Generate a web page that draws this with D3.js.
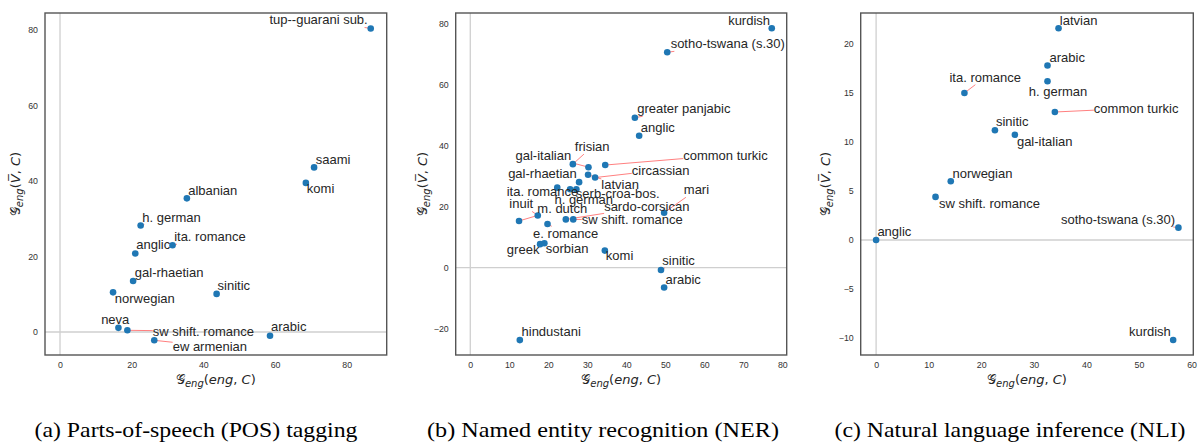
<!DOCTYPE html>
<html><head><meta charset="utf-8">
<script src="https://cdn.jsdelivr.net/npm/d3@7"></script>
<style>body{margin:0;background:#fff}svg{display:block}</style>
</head><body>
<svg id="chart" width="1198" height="443"></svg>
<script>
// ---------- DATA ----------
const posLangs = ["tup--guarani sub.","saami","komi","albanian","h. german","ita. romance","anglic","gal-rhaetian","norwegian","sinitic","neva","sw shift. romance","ew armenian","arabic"];
const posX = [86.7,70.9,68.6,35.4,22.5,31.4,21.0,20.4,14.8,43.7,16.3,18.8,26.3,58.6];
const posY = [80.4,43.6,39.5,35.4,28.2,23.0,20.8,13.5,10.5,10.1,1.1,0.45,-2.2,-1.0];

const nerLangs = ["kurdish","sotho-tswana (s.30)","greater panjabic","anglic","frisian","gal-italian","common turkic","circassian","latvian","gal-rhaetian","ita. romance","h. german","serb-croa-bos.","m. dutch","inuit","sardo-corsican","sw shift. romance","mari","e. romance","greek","sorbian","komi","sinitic","arabic","hindustani"];
const nerX = [77.3,50.5,42.2,43.3,26.3,30.3,34.6,32.0,30.2,27.9,22.3,25.6,27.2,12.5,17.3,24.5,26.4,49.7,19.8,17.9,19.0,34.5,48.9,49.7,12.7];
const nerY = [78.4,70.5,49.1,43.2,33.9,32.9,33.6,29.5,30.4,28.0,26.2,25.7,25.7,15.3,17.1,15.8,15.8,18.0,14.3,7.7,8.0,5.6,-0.75,-6.5,-23.7];

const nliLangs = ["latvian","arabic","h. german","ita. romance","common turkic","sinitic","gal-italian","norwegian","sw shift. romance","sotho-tswana (s.30)","anglic","kurdish"];
const nliX = [34.7,32.6,32.6,16.8,34.0,22.6,26.4,14.2,11.3,57.5,0.0,56.5];
const nliY = [21.6,17.8,16.2,15.0,13.06,11.2,10.74,6.0,4.4,1.26,0.0,-10.2];

const posXTicks = [0,20,40,60,80];
const posYTicks = [0,20,40,60,80];
const nerXTicks = [0,10,20,30,40,50,60,70,80];
const nerYTicks = [-20,0,20,40,60,80];
const nliXTicks = [0,10,20,30,40,50,60];
const nliYTicks = [-10,-5,0,5,10,15,20];

const captions = ["(a) Parts-of-speech (POS) tagging","(b) Named entity recognition (NER)","(c) Natural language inference (NLI)"];

// ---------- LAYOUT (label offsets in px from the point: dx, dy(baseline), anchor) ----------
const posLabelLayout = [[-3,-4,"end"],[1.7,-3.3,"start"],[1,10.3,"start"],[1.3,-3.6,"start"],[1.6,-4,"start"],[1.6,-4,"start"],[1,-4.3,"start"],[1.7,-3.7,"start"],[1.7,10.7,"start"],[1,-4,"start"],[-17.3,-3.7,"start"],[25.4,5.4,"start"],[18.4,10.4,"start"],[1,-4.4,"start"]];
const nerLabelLayout = [[-1.7,-3.6,"end"],[3.4,-4,"start"],[2.3,-4.4,"start"],[1.7,-4,"start"],[2,-13,"start"],[-17.3,-7.5,"end"],[78,-5.5,"start"],[36.7,-3,"start"],[13.3,14.5,"start"],[-2.3,-3.7,"end"],[-50.6,8.5,"start"],[-15.7,14.7,"start"],[-0.5,9,"start"],[18.3,-8.3,"start"],[-28.4,-7,"start"],[38.3,-8.3,"start"],[8.4,4.7,"start"],[19.7,-18.4,"start"],[-14.4,14.3,"start"],[-0.7,9.7,"end"],[1.4,9.4,"start"],[1,9.3,"start"],[1.3,-5,"start"],[1.3,-4,"start"],[1.7,-3.7,"start"]];
const nliLabelLayout = [[1.3,-3.6,"start"],[2,-4,"start"],[-18.7,14.4,"start"],[-15,-11.3,"start"],[39,0.7,"start"],[1,-4,"start"],[2,11,"start"],[1.7,-3.7,"start"],[3.4,11,"start"],[-3.3,-3.7,"end"],[1.3,-3.7,"start"],[-2.3,-4,"end"]];

const panels = [
  {langs:posLangs, xs:posX, ys:posY, xt:posXTicks, yt:posYTicks, lay:posLabelLayout,
   frame:[45,13,386.7,355], xd:[-4.19,91.16], yd:[-6.09,84.5], ylabX:16, capX:196, capW:323},
  {langs:nerLangs, xs:nerX, ys:nerY, xt:nerXTicks, yt:nerYTicks, lay:nerLabelLayout,
   frame:[455.7,13,786.7,355], xd:[-3.74,81.13], yd:[-28.58,83.37], ylabX:423, capX:603, capW:352},
  {langs:nliLangs, xs:nliX, ys:nliY, xt:nliXTicks, yt:nliYTicks, lay:nliLabelLayout,
   frame:[860.7,13,1193.3,355], xd:[-2.93,60.33], yd:[-11.73,23.16], ylabX:826, capX:1010, capW:351}
];

const svg = d3.select("#chart");
const TXT = "#262626";

function mathLabel(sel, second) {
  sel.append("tspan").attr("font-family","DejaVu Serif, DejaVu Sans").attr("font-style","normal").text("\u{1D4A2}");
  sel.append("tspan").attr("font-style","italic").attr("font-size","10px").attr("dy",3).text("eng");
  sel.append("tspan").attr("dy",-3).text("(");
  second(sel);
  sel.append("tspan").text(", ");
  sel.append("tspan").attr("font-style","italic").text("C");
  sel.append("tspan").text(")");
}

panels.forEach((p, pi) => {
  const [x0,y0,x1,y1] = p.frame;
  const x = d3.scaleLinear().domain(p.xd).range([x0,x1]);
  const y = d3.scaleLinear().domain(p.yd).range([y1,y0]);
  const g = svg.append("g");

  // zero reference lines
  g.append("line").attr("x1",x(0)).attr("x2",x(0)).attr("y1",y0).attr("y2",y1)
    .attr("stroke","#cfcfcf").attr("stroke-width",1.3);
  g.append("line").attr("x1",x0).attr("x2",x1).attr("y1",y(0)).attr("y2",y(0))
    .attr("stroke","#cfcfcf").attr("stroke-width",1.3);

  // axes (tick labels only, no tick marks)
  const xa = g.append("g").attr("transform",`translate(0,${y1})`)
    .call(d3.axisBottom(x).tickValues(p.xt).tickSize(0).tickPadding(7).tickFormat(d3.format("d")));
  const ya = g.append("g").attr("transform",`translate(${x0},0)`)
    .call(d3.axisLeft(y).tickValues(p.yt).tickSize(0).tickPadding(7).tickFormat(d => d < 0 ? "\u2212" + Math.abs(d) : d));
  [xa, ya].forEach(a => {
    a.select(".domain").remove();
    a.selectAll("text").attr("font-family","Liberation Sans, Arial, sans-serif").attr("font-size","8.8px").attr("fill","#333");
  });

  // frame
  g.append("rect").attr("x",x0).attr("y",y0).attr("width",x1-x0).attr("height",y1-y0)
    .attr("fill","none").attr("stroke","#555").attr("stroke-width",1.4);

  const lineG = g.append("g");
  const dotG = g.append("g");
  const labG = g.append("g");
  p.langs.forEach((name, i) => {
    const px = x(p.xs[i]), py = y(p.ys[i]);
    const [dx, dy, anc] = p.lay[i];
    const t = labG.append("text").attr("x", px + dx).attr("y", py + dy)
      .attr("text-anchor", anc).attr("font-family","Liberation Sans, Arial, sans-serif")
      .attr("font-size","13px").attr("fill",TXT).text(name);
    const bb = t.node().getBBox();
    const cx = bb.x + bb.width/2, cy = bb.y + bb.height/2;
    const ddx = px - cx, ddy = py - cy;
    let tt = 1;
    if (ddx !== 0) tt = Math.min(tt, (bb.width/2)/Math.abs(ddx));
    if (ddy !== 0) tt = Math.min(tt, (bb.height/2)/Math.abs(ddy));
    if (tt < 1) {
      lineG.append("line").attr("x1", cx + ddx*tt).attr("y1", cy + ddy*tt)
        .attr("x2", px).attr("y2", py).attr("stroke","rgba(255,0,0,0.5)").attr("stroke-width",1);
    }
    dotG.append("circle").attr("cx",px).attr("cy",py).attr("r",3.3).attr("fill","#1f77b4");
  });

  // axis labels
  const xl = g.append("text").attr("x",(x0+x1)/2).attr("y",384).attr("text-anchor","middle")
    .attr("font-family","DejaVu Sans, sans-serif").attr("font-size","13px").attr("fill",TXT);
  mathLabel(xl, s => { s.append("tspan").attr("font-style","italic").text("eng"); });
  const yl = g.append("text").attr("transform",`translate(${p.ylabX + 4},${(y0+y1)/2}) rotate(-90)`)
    .attr("text-anchor","middle")
    .attr("font-family","DejaVu Sans, sans-serif").attr("font-size","13px").attr("fill",TXT);
  mathLabel(yl, s => { s.append("tspan").attr("font-style","italic").text("V\u0305"); });

  // caption
  svg.append("text").attr("x",p.capX - p.capW/2).attr("y",436.5)
    .attr("textLength", p.capW).attr("lengthAdjust","spacingAndGlyphs")
    .attr("font-family","Liberation Serif, Times New Roman, serif").attr("font-size","22px")
    .attr("fill","#000").text(captions[pi]);
});
</script>
</body></html>
